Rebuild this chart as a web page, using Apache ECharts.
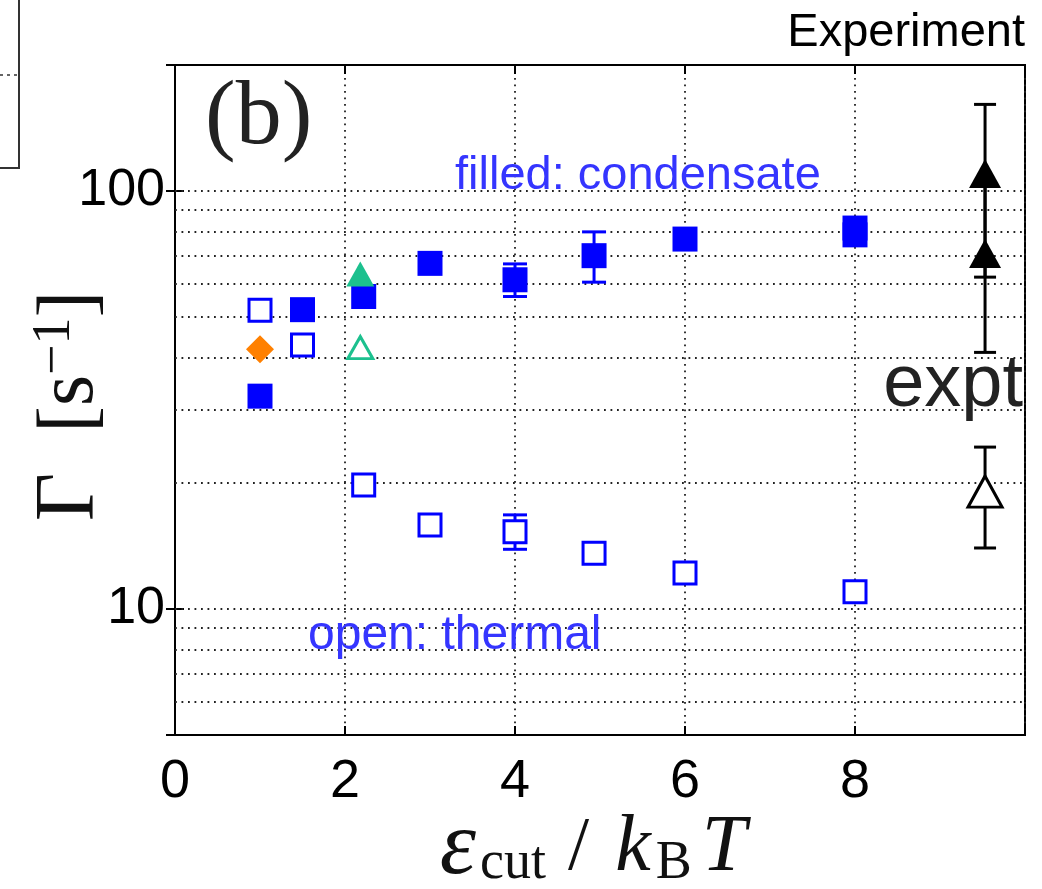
<!DOCTYPE html>
<html><head><meta charset="utf-8">
<script src="https://cdn.jsdelivr.net/npm/echarts@6/dist/echarts.min.js"></script>
<style>html,body{margin:0;padding:0;background:#fff}#c{width:1042px;height:889px}</style>
</head><body><div id="c"></div>
<script>
// ---- data ----
const xTickLabels = ['0', '2', '4', '6', '8', ''];
const yGridValues = [6, 7, 8, 9, 10, 20, 30, 40, 50, 60, 70, 80, 90, 100];

const condensateX = [1, 1.5, 2.22, 3, 4, 4.93, 6, 8, 8];
const condensateY = [32.3, 52.0, 55.9, 67.1, 61.3, 70.0, 76.7, 81.5, 78.5];
const thermalX = [1, 1.5, 2.22, 3, 4, 4.93, 6, 8];
const thermalY = [51.8, 42.8, 19.8, 15.9, 15.3, 13.6, 12.2, 11.0];
const orangeX = [1];
const orangeY = [41.8];
const greenFilledX = [2.18];
const greenFilledY = [63.3];
const greenOpenX = [2.18];
const greenOpenY = [42.2];
const exptFilledX = [9.53, 9.53];
const exptFilledY = [110, 70.8];
const exptOpenX = [9.53];
const exptOpenY = [19.1];

const blueErrX = [4, 4.93, 4];
const blueErrLow = [55.9, 60.5, 13.9];
const blueErrHigh = [66.9, 79.8, 16.8];
const blackErrX = [9.53, 9.53, 9.53];
const blackErrLow = [62.2, 41.1, 14.0];
const blackErrHigh = [161, 105, 24.4];

// ---- build ----
const zip = (xs, ys) => xs.map((x, i) => [x, ys[i]]);
const zip3 = (xs, a, b) => xs.map((x, i) => [x, a[i], b[i]]);

const BLUE = '#0000ff', GREEN = '#1cc08e', ORANGE = '#ff8000';
const DOT = { color: '#222', width: 1.8, type: [1.8, 4.7] };

function errRender(color, width, capW) {
  return function (params, api) {
    const x = api.value(0), lo = api.value(1), hi = api.value(2);
    const p1 = api.coord([x, lo]), p2 = api.coord([x, hi]);
    const h = capW / 2;
    const st = { stroke: color, lineWidth: width };
    return { type: 'group', children: [
      { type: 'line', shape: { x1: p1[0], y1: p1[1], x2: p2[0], y2: p2[1] }, style: st },
      { type: 'line', shape: { x1: p1[0] - h, y1: p1[1], x2: p1[0] + h, y2: p1[1] }, style: st },
      { type: 'line', shape: { x1: p2[0] - h, y1: p2[1], x2: p2[0] + h, y2: p2[1] }, style: st }
    ]};
  };
}

const isDecade = v => v >= 10 && Math.abs(Math.log10(v) - Math.round(Math.log10(v))) < 1e-6;

const chart = echarts.init(document.getElementById('c'), null, { renderer: 'canvas' });
chart.setOption({
  animation: false,
  backgroundColor: '#fff',
  grid: { left: 175, top: 65, right: 17, bottom: 154, outerBoundsMode: 'none', containLabel: false,
    show: true, borderColor: '#000', borderWidth: 2, backgroundColor: 'transparent' },
  xAxis: [{
    type: 'value', min: 0, max: 10, interval: 2,
    axisLine: { show: true, lineStyle: { color: '#000', width: 2 } },
    axisTick: { show: true, inside: true, length: 9, lineStyle: { color: '#000', width: 2 } },
    axisLabel: { margin: 20, fontSize: 54, color: '#000', fontFamily: 'Liberation Sans',
      formatter: (v) => xTickLabels[Math.round(v / 2)] ?? '' },
    splitLine: { show: true, lineStyle: DOT },
    name: '{e|ε}{s|cut}{n|/}{i|k}{b|B}{t|T}',
    nameLocation: 'middle', nameGap: 74, nameMoveOverlap: false,
    nameTextStyle: {
      color: '#111',
      rich: {
        e: { fontFamily: 'Liberation Serif', fontStyle: 'italic', fontSize: 92, lineHeight: 80, padding: [0, 4, 0, 0] },
        i: { fontFamily: 'Liberation Serif', fontStyle: 'italic', fontSize: 80, lineHeight: 80 },
        t: { fontFamily: 'Liberation Serif', fontStyle: 'italic', fontSize: 80, lineHeight: 80, padding: [0, 14, 0, 0] },
        n: { fontFamily: 'Liberation Serif', fontSize: 76, lineHeight: 80, padding: [0, 26, 0, 22] },
        s: { fontFamily: 'Liberation Serif', fontSize: 54, lineHeight: 50, padding: [30, 0, 0, 0] },
        b: { fontFamily: 'Liberation Serif', fontSize: 54, lineHeight: 50, padding: [30, 10, 0, 5] }
      }
    }
  }, {
    type: 'value', min: 0, max: 10, interval: 2, position: 'top',
    axisLine: { show: true, lineStyle: { color: '#000', width: 2 } },
    axisTick: { show: true, inside: true, length: 9, lineStyle: { color: '#000', width: 2 } },
    axisLabel: { show: false }, splitLine: { show: false }
  }],
  yAxis: [{
    type: 'log', logBase: 10, min: 5, max: 200,
    axisLine: { show: true, lineStyle: { color: '#000', width: 2 } },
    axisTick: { show: true, inside: true, length: 9, lineStyle: { color: '#000', width: 2 } },
    axisLabel: { margin: 10, fontSize: 52, color: '#000', fontFamily: 'Liberation Sans',
      showMinLabel: false, showMaxLabel: false,
      formatter: (v) => isDecade(v) ? String(Math.round(v)) : '' },
    splitLine: { show: false },
    name: '{g|Γ}{n|  [s}{sup|−1}{m|]}',
    nameLocation: 'middle', nameRotate: 90, nameGap: 62, nameMoveOverlap: false,
    nameTextStyle: {
      color: '#111',
      rich: {
        g: { fontFamily: 'Liberation Serif', fontSize: 84, lineHeight: 84 },
        n: { fontFamily: 'Liberation Serif', fontSize: 80, lineHeight: 84 },
        m: { fontFamily: 'Liberation Serif', fontSize: 80, lineHeight: 84, padding: [0, 12, 0, 0] },
        sup: { fontFamily: 'Liberation Serif', fontSize: 54, lineHeight: 52, padding: [0, 0, 32, 0] }
      }
    }
  }, {
    type: 'log', logBase: 10, min: 5, max: 200, position: 'right',
    axisLine: { show: true, lineStyle: { color: '#000', width: 2 } },
    axisTick: { show: true, inside: true, length: 9, lineStyle: { color: '#000', width: 2 } },
    axisLabel: { show: false }, splitLine: { show: false }
  }],
  series: [
    {
      type: 'scatter', name: 'grid', data: [], z: 1, silent: true,
      markLine: {
        silent: true, symbol: 'none', z: 1, animation: false,
        label: { show: false },
        lineStyle: DOT,
        data: yGridValues.map(v => ({ yAxis: v }))
      }
    },
    { type: 'custom', name: 'blueErr', z: 2, renderItem: errRender(BLUE, 3, 24),
      encode: { x: 0, y: [1, 2] }, data: zip3(blueErrX, blueErrLow, blueErrHigh) },
    { type: 'custom', name: 'blackErr', z: 2, renderItem: errRender('#000', 3, 22),
      encode: { x: 0, y: [1, 2] }, data: zip3(blackErrX, blackErrLow, blackErrHigh) },
    { type: 'scatter', name: 'condensate', z: 3, symbol: 'rect', symbolSize: 25,
      itemStyle: { color: BLUE, opacity: 1 }, data: zip(condensateX, condensateY) },
    { type: 'scatter', name: 'thermal', z: 3, symbol: 'rect', symbolSize: 22,
      itemStyle: { color: '#fff', borderColor: BLUE, borderWidth: 3, opacity: 1 }, data: zip(thermalX, thermalY) },
    { type: 'scatter', name: 'orange', z: 3, symbol: 'diamond', symbolSize: [28, 28],
      itemStyle: { color: ORANGE, opacity: 1 }, data: zip(orangeX, orangeY) },
    { type: 'scatter', name: 'greenFilled', z: 3, symbol: 'triangle', symbolSize: [28, 25],
      itemStyle: { color: GREEN, opacity: 1 }, data: zip(greenFilledX, greenFilledY) },
    { type: 'scatter', name: 'greenOpen', z: 3, symbol: 'triangle', symbolSize: [25, 22],
      itemStyle: { color: '#fff', borderColor: GREEN, borderWidth: 3, opacity: 1 }, data: zip(greenOpenX, greenOpenY) },
    { type: 'scatter', name: 'exptFilled', z: 3, symbol: 'triangle', symbolSize: [32, 29],
      itemStyle: { color: '#000', opacity: 1 }, data: zip(exptFilledX, exptFilledY) },
    { type: 'scatter', name: 'exptOpen', z: 3, symbol: 'triangle', symbolSize: [34, 31],
      itemStyle: { color: '#fff', borderColor: '#000', borderWidth: 3, opacity: 1 }, data: zip(exptOpenX, exptOpenY) }
  ],
  graphic: [
    { type: 'text', left: 205, top: 73, z: 10, silent: true,
      style: { text: '(b)', font: '92px "Liberation Serif"', fill: '#222' } },
    { type: 'text', right: 17, top: 10, z: 10, silent: true,
      style: { text: 'Experiment', font: '47px "Liberation Sans"', fill: '#000' } },
    { type: 'text', left: 455, top: 153, z: 10, silent: true,
      style: { text: 'filled: condensate', font: '47px "Liberation Sans"', fill: '#3535ff' } },
    { type: 'text', left: 308, top: 612, z: 10, silent: true,
      style: { text: 'open: thermal', font: '48px "Liberation Sans"', fill: '#3535ff' } },
    { type: 'text', right: 19, top: 349, z: 10, silent: true,
      style: { text: 'expt', font: '74px "Liberation Sans"', fill: '#222' } },
    { type: 'polyline', z: 10, silent: true, shape: { points: [[19, 0], [19, 168], [0, 168]] },
      style: { stroke: '#333', lineWidth: 2, fill: null } },
    { type: 'line', z: 10, silent: true, shape: { x1: 0, y1: 75, x2: 17, y2: 75 },
      style: { stroke: '#333', lineWidth: 1.5, lineDash: [3, 4] } }
  ]
});
</script></body></html>
